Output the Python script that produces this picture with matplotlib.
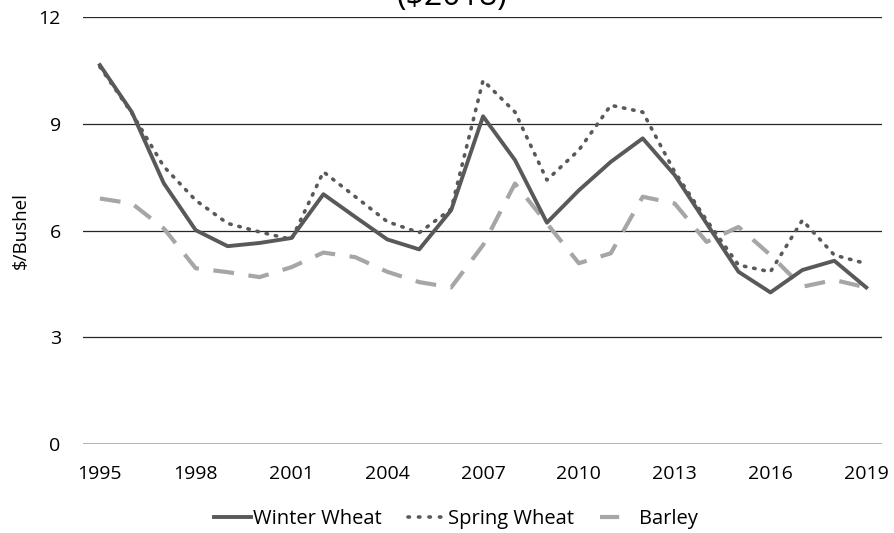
# -*- coding: utf-8 -*-

# real prices of wheat and barley, $2018 per bushel

import matplotlib
matplotlib.use("Agg")
import matplotlib.pyplot as plt
from matplotlib.lines import Line2D

plt.rcParams['font.family'] = ['Open Sans', 'DejaVu Sans']

years = list(range(1995, 2020))
winter_wheat = [10.65, 9.33, 7.33, 6.01, 5.56, 5.65, 5.79, 7.02, 6.38, 5.75, 5.47, 6.57,
                9.21, 7.98, 6.22, 7.13, 7.93, 8.59, 7.56, 6.2, 4.84, 4.26, 4.89, 5.15, 4.4]
spring_wheat = [10.6, 9.3, 7.8, 6.85, 6.2, 5.96, 5.75, 7.65, 6.95, 6.25, 5.94, 6.6,
                10.22, 9.33, 7.42, 8.26, 9.52, 9.33, 7.65, 6.29, 5.03, 4.84, 6.29, 5.31, 5.07]
barley = [6.9, 6.76, 6.06, 4.94, 4.83, 4.69, 4.97, 5.38, 5.25, 4.84, 4.55, 4.4,
          5.59, 7.32, 6.2, 5.08, 5.36, 6.95, 6.76, 5.68, 6.1, 5.31, 4.42, 4.61, 4.4]
xticks = list(range(1995, 2020, 3))
yticks = [0, 3, 6, 9, 12]

fig = plt.figure(figsize=(8.94, 5.33), dpi=100)
ax = fig.add_axes([0.0928, 0.167, 0.894, 0.801])

for y in yticks[1:]:
    ax.axhline(y, color="#262626", lw=0.9, zorder=1)
ax.axhline(0, color="#a6a6a6", lw=1.2, zorder=1)

l1, = ax.plot(years, winter_wheat, color="#595959", lw=2.8, label="Winter Wheat", zorder=3)
l2, = ax.plot(years, spring_wheat, color="#595959", lw=2.6, linestyle=(0, (0.4, 2.2)),
              dash_capstyle="round", label="Spring Wheat", zorder=3)
ax.plot(years, barley, color="#a6a6a6", lw=3.0, linestyle=(0, (5, 3.5)),
        label="Barley", zorder=2)

ax.set_xlim(1994.47, 2019.5)
ax.set_ylim(0, 12)
ax.set_xticks(xticks)
ax.set_yticks(yticks)
ax.tick_params(length=0, labelsize=14)
ax.tick_params(axis="x", pad=15)
ax.tick_params(axis="y", pad=16)
for s in ax.spines.values():
    s.set_visible(False)

ax.set_ylabel("$/Bushel", fontsize=13.5)
ax.yaxis.set_label_coords(-0.066, 0.5)

fig.text(0.506, 1 - 13 / 533, "($2018)", fontsize=23, ha="center", va="bottom")

# legend: barley shows a single short dash
barley_key = Line2D([], [], color="#a6a6a6", lw=3.0, linestyle=(0, (4.6, 20)))
spring_key = Line2D([], [], color="#595959", lw=2.6, linestyle=(0, (0.4, 2.5)),
                    dash_capstyle="round")
fig.legend([l1, spring_key, barley_key], ["Winter Wheat", "Spring Wheat", "Barley"],
           loc="center", bbox_to_anchor=(456 / 894, 14 / 533), ncol=3, frameon=False,
           fontsize=14.5, handlelength=1.85, columnspacing=1.3, handletextpad=0.1)

fig.savefig("out.png", dpi=100)
